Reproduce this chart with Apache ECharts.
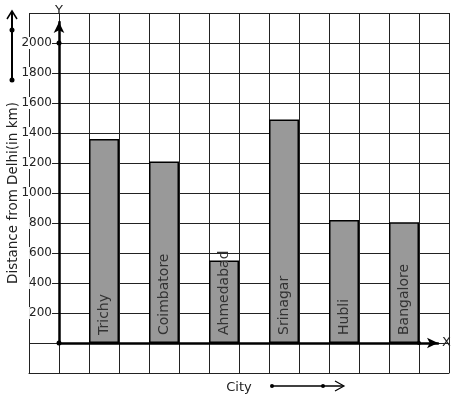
<!DOCTYPE html>
<html>
<head>
<meta charset="utf-8">
<script src="https://cdn.jsdelivr.net/npm/echarts@6/dist/echarts.min.js"></script>
<style>
  html, body { margin: 0; padding: 0; background: #fff; }
  #main { width: 457px; height: 399px; }
</style>
</head>
<body>
<div id="main"></div>
<script>
var cities = ['Trichy', 'Coimbatore', 'Ahmedabad', 'Srinagar', 'Hubli', 'Bangalore'];
var distances = [1360, 1210, 550, 1490, 820, 805];
var yTicks = [200, 400, 600, 800, 1000, 1200, 1400, 1600, 1800, 2000];

// graph paper: 14 columns, a city in every second one starting at column 2
var slots = [];
var slotValues = [];
for (var i = 0; i < 14; i++) {
  var k = (i - 2) / 2;
  if (i >= 2 && i % 2 === 0 && k < cities.length) {
    slots.push(cities[k]);
    slotValues.push(distances[k]);
  } else {
    slots.push(' ' + i);
    slotValues.push(null);
  }
}

var dom = document.getElementById('main');
var myChart = echarts.init(dom, null, { renderer: 'canvas' });
var font = 'DejaVu Sans';
var gridLine = { show: true, lineStyle: { color: '#222', width: 1, type: 'solid' } };

var option = {
  animation: false,
  textStyle: { fontFamily: font },
  grid: [
    { left: 29, right: 8, top: 13, bottom: 26, containLabel: false, outerBoundsMode: 'none' },
    { left: 59, right: 19, top: 22, bottom: 56, containLabel: false, outerBoundsMode: 'none' }
  ],
  xAxis: [
    {
      gridIndex: 0,
      type: 'category',
      data: slots,
      boundaryGap: true,
      axisLine: { show: true, onZero: false, lineStyle: { color: '#222', width: 1 } },
      axisTick: { show: false },
      axisLabel: { show: false },
      splitLine: { show: true, interval: 0, lineStyle: { color: '#222', width: 1 } },
      name: 'City',
      nameLocation: 'middle',
      nameGap: 8,
      nameTextStyle: { fontSize: 13, color: '#222', fontFamily: font, verticalAlign: 'top' }
    },
    {
      gridIndex: 1,
      type: 'value',
      min: 0,
      max: 1,
      z: 10,
      axisLine: { show: true, onZero: false, symbol: ['none', 'arrow'], symbolSize: [8, 11], lineStyle: { color: '#000', width: 2.5 } },
      axisTick: { show: false },
      axisLabel: { show: false },
      splitLine: { show: false },
      name: 'X',
      nameLocation: 'end',
      nameGap: 4,
      nameTextStyle: { fontSize: 13, color: '#222', fontFamily: font }
    }
  ],
  yAxis: [
    {
      gridIndex: 0,
      type: 'value',
      min: -200,
      max: 2200,
      interval: 200,
      offset: -30,
      axisLine: { show: false },
      axisTick: { show: false },
      axisLabel: {
        margin: 7,
        fontSize: 12,
        color: '#222',
        fontFamily: font,
        backgroundColor: '#fff',
        formatter: function (v) { return yTicks.indexOf(v) >= 0 ? String(v) : ''; }
      },
      splitLine: gridLine,
      name: 'Distance from Delhi(in km)',
      nameLocation: 'middle',
      nameRotate: 90,
      nameGap: 39,
      nameMoveOverlap: false,
      nameTextStyle: { fontSize: 13.5, color: '#222', fontFamily: font }
    },
    {
      gridIndex: 1,
      type: 'value',
      min: 0,
      max: 1,
      z: 10,
      axisLine: { show: true, onZero: false, symbol: ['none', 'arrow'], symbolSize: [8, 11], lineStyle: { color: '#000', width: 2.5 } },
      axisTick: { show: false },
      axisLabel: { show: false },
      splitLine: { show: false },
      name: 'Y',
      nameLocation: 'end',
      nameGap: 5,
      nameTextStyle: { fontSize: 13, color: '#222', fontFamily: font }
    }
  ],
  series: [
    {
      type: 'bar',
      xAxisIndex: 0,
      yAxisIndex: 0,
      data: slotValues,
      barWidth: '100%',
      itemStyle: { color: '#999999', borderColor: '#000', borderWidth: 1.5 },
      label: {
        show: true,
        position: 'insideBottom',
        rotate: 90,
        align: 'left',
        verticalAlign: 'middle',
        distance: 8,
        fontSize: 14,
        color: '#333',
        fontFamily: font,
        formatter: '{b}'
      }
    }
  ],
  graphic: [
    // decorative arrow at top left
    { type: 'line', shape: { x1: 12, y1: 80, x2: 12, y2: 12 }, style: { stroke: '#000', lineWidth: 2 } },
    { type: 'polyline', shape: { points: [[7, 19], [12, 11], [17, 19]] }, style: { stroke: '#000', lineWidth: 1.5, fill: null } },
    { type: 'circle', shape: { cx: 12, cy: 30, r: 2.5 }, style: { fill: '#000' } },
    { type: 'circle', shape: { cx: 12, cy: 80, r: 2.5 }, style: { fill: '#000' } },
    // arrow next to "City"
    { type: 'line', shape: { x1: 272, y1: 386, x2: 343, y2: 386 }, style: { stroke: '#000', lineWidth: 1.5 } },
    { type: 'polyline', shape: { points: [[335, 381], [344, 386], [335, 391]] }, style: { stroke: '#000', lineWidth: 1.2, fill: null } },
    { type: 'circle', shape: { cx: 272, cy: 386, r: 2 }, style: { fill: '#000' } },
    { type: 'circle', shape: { cx: 323, cy: 386, r: 2 }, style: { fill: '#000' } },
    // dots on the axes
    { type: 'circle', z: 20, shape: { cx: 59, cy: 343, r: 2.5 }, style: { fill: '#000' } },
    { type: 'circle', z: 20, shape: { cx: 59, cy: 43, r: 2.5 }, style: { fill: '#000' } },
    { type: 'circle', z: 20, shape: { cx: 419, cy: 343, r: 2 }, style: { fill: '#000' } }
  ]
};

if (option && typeof option === 'object') {
  myChart.setOption(option);
}

window.addEventListener('resize', myChart.resize);
</script>
</body>
</html>
